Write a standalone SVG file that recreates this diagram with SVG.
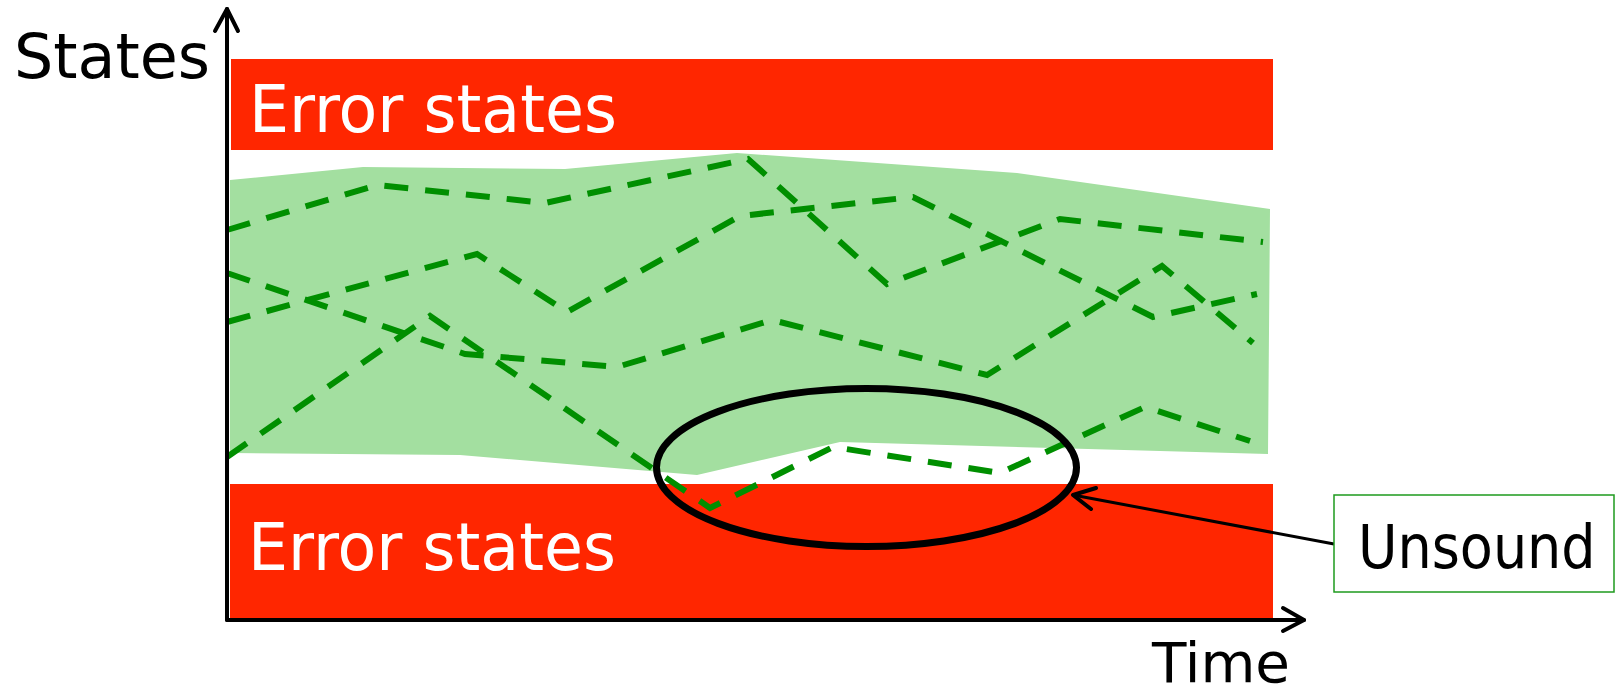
<svg xmlns="http://www.w3.org/2000/svg" width="1617" height="696" viewBox="0 0 1617 696">
<style>
.lbl{font-family:"DejaVu Sans","Liberation Sans",sans-serif;fill:#000}
.err{font-family:"DejaVu Sans","Liberation Sans",sans-serif;fill:#fff;font-size:66px}
.red{fill:#FF2600}
.trace{fill:none;stroke:#008F00;stroke-width:6;stroke-dasharray:24 17;stroke-linejoin:miter}
.axis{fill:none;stroke:#000;stroke-width:4;stroke-linecap:round;stroke-linejoin:round}
</style>
<rect width="1617" height="696" fill="#fff"/>
<g id="error-top">
<rect class="red" x="231" y="59" width="1042" height="91"/>
<text class="err" x="249" y="132" textLength="368" lengthAdjust="spacingAndGlyphs">Error states</text>
</g>
<g id="error-bottom">
<rect class="red" x="230" y="484" width="1043" height="135"/>
<text class="err" x="248" y="570" textLength="368" lengthAdjust="spacingAndGlyphs">Error states</text>
</g>
<g id="safe-region">
<polygon fill="#A3DFA0" points="230,180 363,167 565,169 737,153 1017,173 1270,209 1268,454 840,442 697,475 460,455 230,453"/>
</g>
<g id="traces">
<polyline class="trace" points="227,230 377,185 545,203 748,159 887,284 1060,219 1263,242"/>
<polyline class="trace" points="227,322 477,254 567,312 740,216 913,197 1153,317 1257,294"/>
<polyline class="trace" points="227,273 465,354 617,367 772,320 987,375 1162,266 1253,343"/>
<polyline class="trace" points="227,457 430,316 710,508 833,447 1000,473 1145,407 1250,441"/>
</g>
<g id="unsound-ellipse">
<ellipse cx="866.5" cy="467.5" rx="210" ry="79" fill="none" stroke="#000" stroke-width="7"/>
</g>
<g id="axes">
<polyline class="axis" points="227,620 227,9"/>
<polyline class="axis" points="215,31 227,9 238,31"/>
<polyline class="axis" points="227,620 1304,620"/>
<polyline class="axis" points="1283,608 1304,620 1283,631"/>
<text class="lbl" x="14" y="78" font-size="62" textLength="196" lengthAdjust="spacingAndGlyphs">States</text>
<text class="lbl" x="1152" y="682" font-size="56" textLength="138" lengthAdjust="spacingAndGlyphs">Time</text>
</g>
<g id="connectors">
<line x1="1334" y1="544" x2="1073" y2="495" stroke="#000" stroke-width="3"/>
<polyline points="1096,488 1073,495 1091,509" fill="none" stroke="#000" stroke-width="4" stroke-linecap="round" stroke-linejoin="round"/>
</g>
<g id="unsound-label">
<rect x="1334" y="495" width="280" height="97" fill="#fff" stroke="#1E9A1E" stroke-width="1.5"/>
<text x="1358" y="568" font-size="60" fill="#000" font-family="'DejaVu Sans Condensed','Liberation Sans',sans-serif">Unsound</text>
</g>
</svg>
